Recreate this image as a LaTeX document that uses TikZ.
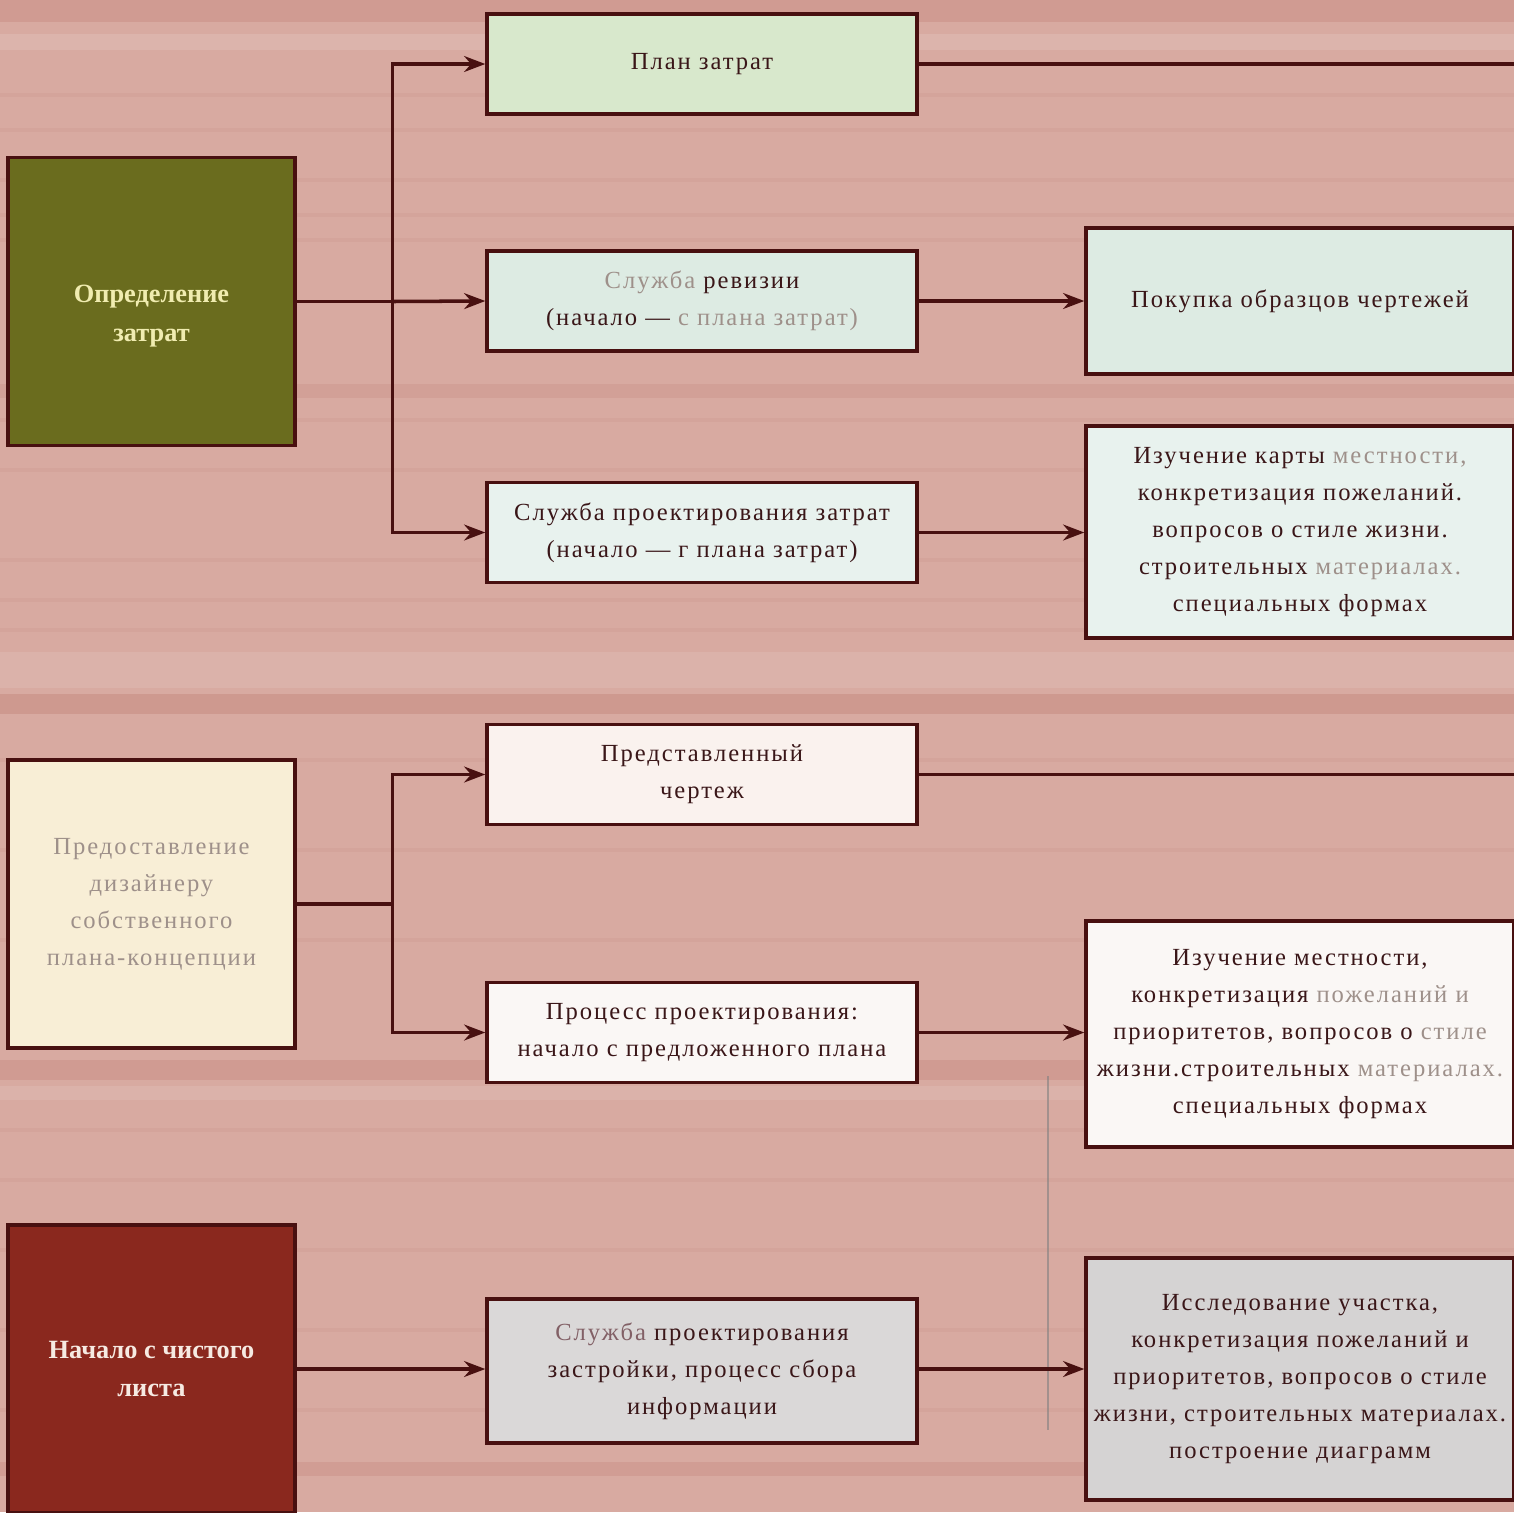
\documentclass[tikz,border=0pt]{standalone}
\usepackage{fontspec}
\setmainfont{Liberation Serif}
\newfontfamily\spaced[LetterSpace=8]{Liberation Serif}
\usetikzlibrary{arrows.meta}
\definecolor{wood}{RGB}{216,170,161}
\definecolor{woodline}{RGB}{190,122,112}
\definecolor{ink}{RGB}{58,22,24}
\definecolor{wire}{RGB}{72,16,16}
\definecolor{fade}{RGB}{158,144,138}
\definecolor{mauve}{RGB}{130,96,102}
\definecolor{olive}{RGB}{106,108,30}
\definecolor{cream}{RGB}{248,238,214}
\definecolor{brick}{RGB}{138,40,30}
\definecolor{plangreen}{RGB}{216,232,204}
\definecolor{mint}{RGB}{221,235,227}
\definecolor{frost}{RGB}{232,242,238}
\definecolor{blush}{RGB}{250,242,238}
\definecolor{paper}{RGB}{250,247,245}
\definecolor{ash}{RGB}{218,216,216}
\definecolor{ashdark}{RGB}{213,211,211}
\newcommand{\pale}[1]{\textcolor{fade}{#1}}

\begin{document}
\begin{tikzpicture}[x=0.02cm,y=-0.02cm,>={Stealth[length=12pt,width=9pt]},
  link/.style={draw=wire,line width=2pt},
  box/.style={draw=wire,line width=2pt,align=center,inner sep=0pt,text=ink,
    font=\spaced\fontsize{14}{21}\selectfont},
  lbox/.style={box,minimum width=5.74cm,minimum height=5.76cm},
  mbox/.style={box,minimum width=8.6cm,minimum height=2cm},
  rbox/.style={box,minimum width=8.56cm},
  bold/.style={font=\bfseries\fontsize{15}{22}\selectfont}]
  \clip (0,0) rectangle (1514,1512);
  \fill[wood] (0,0) rectangle (1514,1512);
  \foreach \y in {95,130,180,215,240,420,470,560,600,630,760,850,940,1130,1180,1250,1330,1410}
    \draw[woodline,opacity=0.12,line width=2pt] (0,\y) -- (1514,\y);
  \fill[woodline,opacity=0.3] (0,0) rectangle (1514,22);
  \fill[white,opacity=0.12] (0,34) rectangle (1514,50);
  \fill[woodline,opacity=0.2] (0,384) rectangle (1514,398);
  \fill[white,opacity=0.1] (0,652) rectangle (1514,688);
  \fill[woodline,opacity=0.35] (0,694) rectangle (1514,714);
  \fill[woodline,opacity=0.3] (0,1060) rectangle (1514,1080);
  \fill[white,opacity=0.1] (0,1086) rectangle (1514,1100);
  \fill[woodline,opacity=0.25] (0,1462) rectangle (1514,1476);
  \draw[gray,opacity=0.6,line width=1pt] (1048,1076) -- (1048,1430);

  \node[lbox,bold,fill=olive,text={rgb,255:red,240;green,236;blue,176}] (cost) at (151.5,301.5) {\rule{0pt}{0.93cm}Определение\\затрат};
  \node[lbox,fill=cream,text=fade] (own) at (151.5,904) {Предоставление\\дизайнеру\\собственного\\плана-концепции};
  \node[lbox,bold,fill=brick,text={rgb,255:red,246;green,234;blue,226}] (blank) at (151.5,1369) {Начало с чистого\\листа};

  \node[mbox,fill=plangreen] (planz) at (702,64) {План затрат};
  \node[mbox,fill=mint] (revizia) at (702,301) {\pale{Служба} ревизии\\(начало — \pale{с плана затрат)}};
  \node[mbox,fill=frost] (proekt) at (702,532.5) {Служба проектирования затрат\\(начало — г плана затрат)};
  \node[mbox,fill=blush] (predst) at (702,774.5) {Представленный\\чертеж};
  \node[mbox,fill=paper] (process) at (702,1032.5) {Процесс проектирования:\\начало с предложенного плана};
  \node[mbox,fill=ash,minimum height=2.88cm] (zastr) at (702,1371) {\textcolor{mauve}{Служба} проектирования\\застройки, процесс сбора\\информации};

  \node[rbox,fill=mint,minimum height=2.92cm] (pokupka) at (1300,301) {Покупка образцов чертежей};
  \node[rbox,fill=frost,minimum height=4.24cm] (karta) at (1300,532) {Изучение карты \pale{местности,}\\конкретизация пожеланий.\\вопросов о стиле жизни.\\строительных \pale{материалах.}\\специальных формах};
  \node[rbox,fill=paper,minimum height=4.52cm] (mestnost) at (1300,1034) {Изучение местности,\\конкретизация \pale{пожеланий и}\\приоритетов, вопросов о \pale{стиле}\\жизни.строительных \pale{материалах.}\\специальных формах};
  \node[rbox,fill=ashdark,minimum height=4.84cm] (uchastok) at (1300,1379) {Исследование участка,\\конкретизация пожеланий и\\приоритетов, вопросов о стиле\\жизни, строительных материалах.\\построение диаграмм};

  \coordinate (edge) at (1514,0);
  \draw[link] (cost.east) -- ++(96,0) coordinate (fork1);
  \draw[link,->] (fork1) |- (planz.west);
  \draw[link,->] (fork1) -- (revizia.west);
  \draw[link,->] (fork1) |- (proekt.west);
  \draw[link] (planz.east) -- (planz.east -| edge);
  \draw[link,->] (revizia.east) -- (revizia.east -| pokupka.west);
  \draw[link,->] (proekt.east) -- (proekt.east -| karta.west);

  \draw[link] (own.east) -- ++(96,0) coordinate (fork2);
  \draw[link,->] (fork2) |- (predst.west);
  \draw[link,->] (fork2) |- (process.west);
  \draw[link] (predst.east) -- (predst.east -| edge);
  \draw[link,->] (process.east) -- (process.east -| mestnost.west);

  \draw[link,->] (blank.east) -- (blank.east -| zastr.west);
  \draw[link,->] (zastr.east |- blank.east) -- (blank.east -| uchastok.west);
\end{tikzpicture}
\end{document}
